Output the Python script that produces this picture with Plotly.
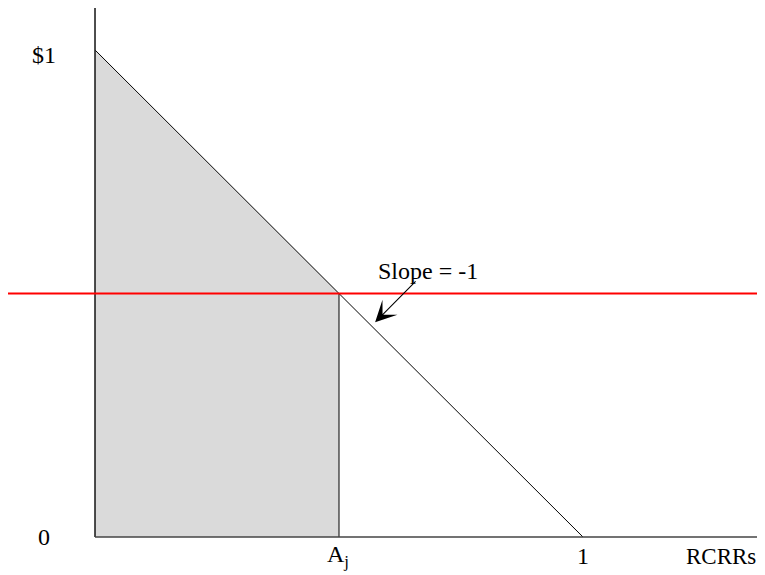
import plotly.graph_objects as go

# budget line: $1 at zero RCRRs, zero at 1 RCRR (slope = -1)
line_x = [0, 1]
line_y = [1, 0]

a_j = 0.5            # chosen point on the x axis
price_level = 0.5    # red horizontal line
x_max = 1.373
y_top = 1.088

tick_labels = {"$1": 0.99, "0": 0}
x_labels = {"A<sub>j</sub>": 0.497, "1": 1}

FONT = "Liberation Serif, Times New Roman, serif"

fig = go.Figure()

# shaded area under the line up to A_j
fig.add_trace(go.Scatter(
    x=[0, 0, a_j, a_j, 0], y=[0, 1, 1 - a_j, 0, 0],
    fill="toself", fillcolor="#dadada", mode="lines",
    line={"color": "#dadada", "width": 0}, hoverinfo="skip",
))
# vertical at A_j
fig.add_trace(go.Scatter(x=[a_j, a_j], y=[0, 1 - a_j], mode="lines",
                         line={"color": "black", "width": 1}))
# diagonal
fig.add_trace(go.Scatter(x=line_x, y=line_y, mode="lines",
                         line={"color": "black", "width": 1}))
# axes
fig.add_trace(go.Scatter(x=[0, 0], y=[0, y_top], mode="lines",
                         line={"color": "#222", "width": 1.6}))
fig.add_trace(go.Scatter(x=[0, x_max], y=[0, 0], mode="lines",
                         line={"color": "#444", "width": 1.4}))
# red level line
fig.add_trace(go.Scatter(x=[-0.1783, x_max], y=[price_level, price_level], mode="lines",
                         line={"color": "#ff0000", "width": 2}))

for text, yv in tick_labels.items():
    fig.add_annotation(x=-0.1045, y=yv, text=text, showarrow=False,
                       font={"family": FONT, "size": 24, "color": "black"})
for text, xv in x_labels.items():
    fig.add_annotation(x=xv, y=-0.04, text=text, showarrow=False,
                       font={"family": FONT, "size": 24, "color": "black"})
fig.add_annotation(x=1.358, y=-0.04, text="RCRRs", showarrow=False, xanchor="right",
                   font={"family": FONT, "size": 23, "color": "black"})

fig.add_annotation(x=0.682, y=0.546, text="Slope = -1", showarrow=False,
                   font={"family": FONT, "size": 24, "color": "black"})
fig.add_annotation(x=0.574, y=0.441, ax=0.66, ay=0.528, axref="x", ayref="y",
                   text="", showarrow=True, arrowhead=3, arrowsize=3.2,
                   arrowwidth=1.1, arrowcolor="black")

# the page body adds an 8px margin, so the figure is 8px smaller each way
fig.update_layout(
    width=757, height=567, showlegend=False,
    margin={"l": 0, "r": 0, "t": 0, "b": 0},
    paper_bgcolor="white", plot_bgcolor="white",
    xaxis={"range": [-0.1783, x_max], "visible": False, "fixedrange": True},
    yaxis={"range": [-0.078, 1.0862], "visible": False, "fixedrange": True},
)

fig.write_html("out.html")
